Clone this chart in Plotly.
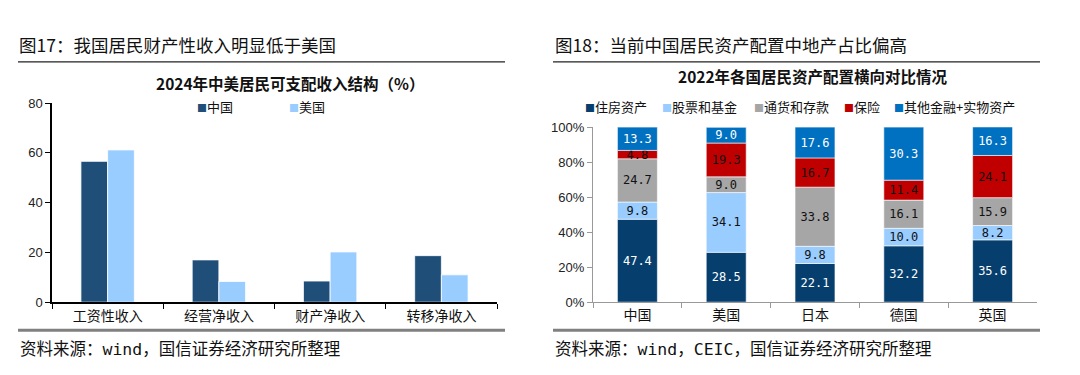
import plotly.graph_objects as go

# ---------------- data ----------------
income_cats = ["工资性收入", "经营净收入", "财产净收入", "转移净收入"]
income_china = [56.6, 17.0, 8.5, 18.7]
income_us = [61.2, 8.3, 20.2, 11.0]

asset_countries = ["中国", "美国", "日本", "德国", "英国"]
asset_names = ["住房资产", "股票和基金", "通货和存款", "保险", "其他金融+实物资产"]
asset_housing = [47.4, 28.5, 22.1, 32.2, 35.6]
asset_stocks = [9.8, 34.1, 9.8, 10.0, 8.2]
asset_deposits = [24.7, 9.0, 33.8, 16.1, 15.9]
asset_insurance = [4.8, 19.3, 16.7, 11.4, 24.1]
asset_other = [13.3, 9.0, 17.6, 30.3, 16.3]

income_colors = ["#1F4E79", "#99CCFF"]
asset_colors = ["#063F6E", "#99CCFF", "#A6A6A6", "#C00000", "#0070C0"]
asset_text_colors = ["white", "#111111", "#111111", "#111111", "white"]

# page has an 8px body margin: figure sized so page == window
OFF = 8
W, H = 1080 - 2 * OFF, 375 - 2 * OFF
CJK = "Noto Sans CJK SC"


def px(x):
    return (x - OFF) / W


def py(y):
    return 1 - (y - OFF) / H


fig = go.Figure()

# ---------------- left chart: grouped bars ----------------
bw = 0.24
fig.add_trace(go.Bar(
    x=income_cats, y=income_china, name="中国", xaxis="x", yaxis="y",
    marker=dict(color=income_colors[0], line=dict(color="white", width=0.8)),
    width=bw, offset=-bw, showlegend=False, hoverinfo="x+y+name"))
fig.add_trace(go.Bar(
    x=income_cats, y=income_us, name="美国", xaxis="x", yaxis="y",
    marker=dict(color=income_colors[1], line=dict(color="white", width=0.8)),
    width=bw, offset=0, showlegend=False, hoverinfo="x+y+name"))

# ---------------- right chart: stacked bars via base ----------------
series = [asset_housing, asset_stocks, asset_deposits, asset_insurance, asset_other]
base = [0.0] * len(asset_countries)
sw = 0.45
for name, vals, col, tcol in zip(asset_names, series, asset_colors, asset_text_colors):
    fig.add_trace(go.Bar(
        x=asset_countries, y=vals, base=list(base), name=name,
        xaxis="x2", yaxis="y2", width=sw, offset=-sw / 2,
        marker=dict(color=col, line=dict(color="white", width=0.6)),
        text=[f"{v:.1f}" for v in vals], textposition="inside",
        insidetextanchor="middle", textangle=0, constraintext="none",
        textfont=dict(family="DejaVu Sans Mono", size=12, color=tcol),
        showlegend=False, hoverinfo="x+y+name"))
    base = [b + v for b, v in zip(base, vals)]

axis_font = dict(family="Liberation Sans, Arial", size=13, color="#222222")

fig.update_layout(
    width=W, height=H, margin=dict(l=0, r=0, t=0, b=0),
    paper_bgcolor="white", plot_bgcolor="white",
    barmode="overlay",
    uniformtext=dict(minsize=12, mode="show"),
    xaxis=dict(domain=[px(52), px(497)], type="category", tickson="boundaries",
               ticks="outside", ticklen=5, tickcolor="#000", showline=True,
               linecolor="#000", linewidth=1.5, showgrid=False, fixedrange=True,
               tickfont=dict(family=CJK, size=14, color="#111")),
    yaxis=dict(domain=[py(307.7), py(100)], range=[0, 80], dtick=20,
               ticks="outside", ticklen=5, tickcolor="#000", showline=True,
               linecolor="#000", linewidth=1.5, showgrid=False, zeroline=False,
               tickfont=axis_font, anchor="x"),
    xaxis2=dict(domain=[px(593), px(1037)], type="category", tickson="boundaries",
                ticks="outside", ticklen=5, tickcolor="#999", showline=True,
                linecolor="#999", linewidth=1.2, showgrid=False, anchor="y2",
                tickfont=dict(family=CJK, size=14, color="#111")),
    yaxis2=dict(domain=[py(307.7), py(125)], range=[0, 100], dtick=20,
                ticksuffix="%", ticks="outside", ticklen=5, tickcolor="#999",
                showline=True, linecolor="#999", linewidth=1.2, showgrid=False,
                zeroline=False, anchor="x2",
                tickfont=dict(family="Liberation Sans Narrow, Liberation Sans, Arial",
                              size=13, color="#222")),
)

annotations = []
# figure titles
annotations.append(dict(text="图17：我国居民财产性收入明显低于美国", x=px(17), y=py(39),
                        xref="paper", yref="paper", xanchor="left", yanchor="middle",
                        showarrow=False, font=dict(family=CJK, size=17.5, color="#111")))
annotations.append(dict(text="图18：当前中国居民资产配置中地产占比偏高", x=px(553), y=py(39),
                        xref="paper", yref="paper", xanchor="left", yanchor="middle",
                        showarrow=False, font=dict(family=CJK, size=17.5, color="#111")))
# chart titles
annotations.append(dict(text="<b>2024年中美居民可支配收入结构（%）</b>", x=px(290), y=py(79),
                        xref="paper", yref="paper", xanchor="center", yanchor="middle",
                        showarrow=False, font=dict(family=CJK, size=15.5, color="#111")))
annotations.append(dict(text="<b>2022年各国居民资产配置横向对比情况</b>", x=px(813), y=py(72),
                        xref="paper", yref="paper", xanchor="center", yanchor="middle",
                        showarrow=False, font=dict(family=CJK, size=15.5, color="#111")))
# legends (left)
for name, col, x0 in zip(["中国", "美国"], income_colors, [195, 287]):
    annotations.append(dict(text=f"<span style='color:{col};font-size:10px'>■</span>{name}",
                            x=px(x0), y=py(104),
                            xref="paper", yref="paper", xanchor="left", yanchor="middle",
                            showarrow=False, font=dict(family=CJK, size=13, color="#111")))
# legends (right)
for name, col, x0 in zip(asset_names, asset_colors, [583, 660, 752, 842, 892]):
    annotations.append(dict(text=f"<span style='color:{col};font-size:10px'>■</span>{name}",
                            x=px(x0), y=py(103),
                            xref="paper", yref="paper", xanchor="left", yanchor="middle",
                            showarrow=False, font=dict(family=CJK, size=13, color="#111")))
# sources
src_font = dict(family="DejaVu Sans Mono, Noto Sans CJK SC", size=16.5, color="#111")
annotations.append(dict(text="资料来源：wind，国信证券经济研究所整理", x=px(18), y=py(357),
                        xref="paper", yref="paper", xanchor="left", yanchor="middle",
                        showarrow=False, font=src_font))
annotations.append(dict(text="资料来源：wind，CEIC，国信证券经济研究所整理", x=px(553), y=py(357),
                        xref="paper", yref="paper", xanchor="left", yanchor="middle",
                        showarrow=False, font=src_font))
fig.update_layout(annotations=annotations)

shapes = []
for x0, x1 in [(18, 505), (553, 1040)]:
    shapes.append(dict(type="line", xref="paper", yref="paper", x0=px(x0), x1=px(x1),
                       y0=py(57), y1=py(57), line=dict(color="#222", width=1.2)))
    shapes.append(dict(type="line", xref="paper", yref="paper", x0=px(x0), x1=px(x1),
                       y0=py(337), y1=py(337), line=dict(color="#808080", width=3)))
fig.update_layout(shapes=shapes)

fig.write_html("out.html", config={"displayModeBar": False})
